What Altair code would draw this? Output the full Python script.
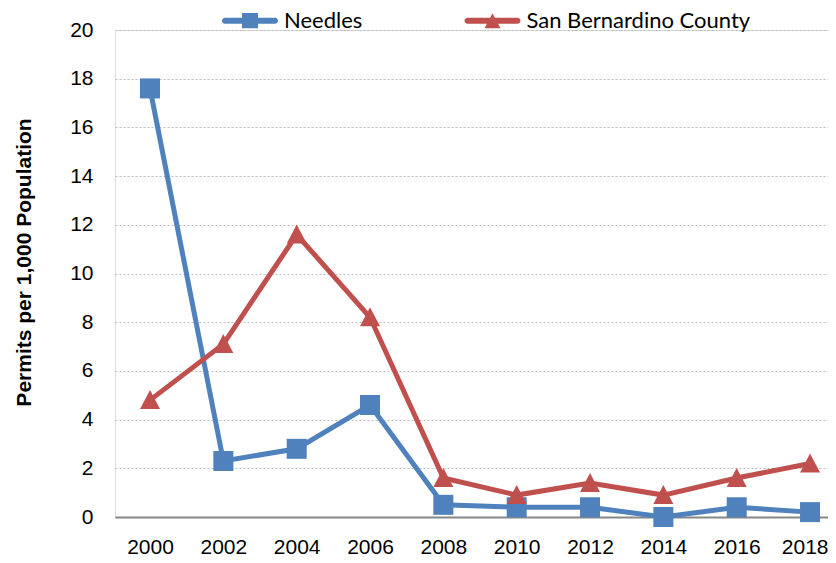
import altair as alt
import pandas as pd

years = [2000, 2002, 2004, 2006, 2008, 2010, 2012, 2014, 2016, 2018]
needles = [17.6, 2.3, 2.8, 4.6, 0.5, 0.4, 0.4, 0.0, 0.4, 0.2]
sanbern = [4.8, 7.1, 11.6, 8.2, 1.6, 0.9, 1.4, 0.9, 1.6, 2.2]
series_names = ["Needles", "San Bernardino County"]
y_ticks = list(range(0, 21, 2))

BLUE = "#4F81BD"
RED = "#C0504D"

rows = []
for i, yr in enumerate(years):
    rows.append({"year": yr, "series": series_names[0], "value": needles[i]})
    rows.append({"year": yr, "series": series_names[1], "value": sanbern[i]})
df = pd.DataFrame(rows)

SQUARE = "M-1,-1H1V1H-1Z"
TRI = "M0,-1L1,0.9L-1,0.9Z"
BAR = "M-3.125,-0.375H3.125A0.375,0.375 0 0 1 3.125,0.375H-3.125A0.375,0.375 0 0 1 -3.125,-0.375Z"
LEG_SQ = BAR + " M-1,-0.95H1V0.95H-1Z"
LEG_TRI = BAR + " M0,-0.94L1,0.94L-1,0.94Z"

FONT = "Liberation Sans, Arial"

x_enc = alt.X(
    "year:Q",
    scale=alt.Scale(domain=[1999.045, 2018.49], nice=False, zero=False),
    axis=alt.Axis(values=years, format="d", title=None, grid=False, ticks=False,
                  labelFont=FONT, labelFontSize=21, labelColor="#000000",
                  labelPadding=19, labelFlush=20, labelFlushOffset=18,
                  labelOverlap=False,
                  domainColor="#878787", domainWidth=2),
)
y_enc = alt.Y(
    "value:Q",
    scale=alt.Scale(domain=[0, 20], nice=False),
    axis=alt.Axis(values=y_ticks, title="Permits per 1,000 Population",
                  titleFont=FONT, titleFontWeight="bold",
                  titleFontSize=21, titleColor="#000000", titlePadding=35,
                  titleY=232,
                  labelFont=FONT, labelFontSize=21, labelColor="#000000",
                  labelPadding=22, ticks=False, domain=False,
                  gridColor="#BDBDBD", gridDash=[2, 2], gridWidth=1),
)

layers = []
for name, col in zip(series_names, [BLUE, RED]):
    layers.append(
        alt.Chart(df).transform_filter(alt.datum.series == name)
        .mark_line(color=col, strokeWidth=5)
        .encode(x=x_enc, y=y_enc)
    )
for name, col, shp in zip(series_names, [BLUE, RED], [SQUARE, TRI]):
    layers.append(
        alt.Chart(df).transform_filter(alt.datum.series == name)
        .mark_point(shape=shp, size=400, filled=True, color=col, opacity=1, strokeWidth=0)
        .encode(x=x_enc, y=y_enc)
    )

leg = alt.Legend(title=None, orient="none", legendX=124, legendY=-20.3,
                 direction="horizontal", symbolSize=256, symbolStrokeWidth=0,
                 symbolOpacity=1, labelFont="Lato", labelFontSize=22, labelLimit=500,
                 labelColor="#000000", labelOffset=23, columnPadding=101.5)

layers.append(
    alt.Chart(df).transform_filter("false")
    .mark_point(filled=True, size=256, opacity=1)
    .encode(
        x=x_enc, y=y_enc,
        color=alt.Color("series:N", scale=alt.Scale(domain=series_names, range=[BLUE, RED]), legend=leg),
        shape=alt.Shape("series:N", scale=alt.Scale(domain=series_names, range=[LEG_SQ, LEG_TRI]), legend=leg),
    )
)

chart = alt.layer(*layers).properties(
    width=713, height=487,
    autosize=alt.AutoSizeParams(type="none"),
    padding={"left": 107, "top": 22, "right": 0, "bottom": 40},
).configure_view(stroke=None).configure(background="white")

chart.save("out.html", embed_options={"renderer": "svg", "actions": False})
